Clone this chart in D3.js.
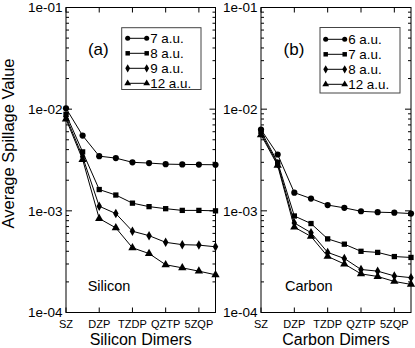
<!DOCTYPE html>
<html>
<head>
<meta charset="utf-8">
<script src="https://cdn.jsdelivr.net/npm/d3@7"></script>
<style>
  body { margin: 0; background: #fff; }
  svg { display: block; font-family: "Liberation Sans", Arial, sans-serif; }
</style>
</head>
<body>
<svg id="chart" width="415" height="348"></svg>
<script>
// basis sets along x (only every second slot gets a label)
const steps = [0, 1, 2, 3, 4, 5, 6, 7, 8, 9];
const tickLabels = ["SZ", "DZP", "TZDP", "QZTP", "5ZQP"];
const tickSteps = [0, 2, 4, 6, 8];
const yTicks = [1e-4, 1e-3, 1e-2, 1e-1];

// Silicon dimers
const siNames = ["7 a.u.", "8 a.u.", "9 a.u.", "12 a.u."];
const si7 = [0.0102, 0.0055, 0.00345, 0.0033, 0.0030, 0.00295, 0.00288, 0.00286, 0.00285, 0.00284];
const si8 = [0.0089, 0.0038, 0.00162, 0.00143, 0.00119, 0.0011, 0.00105, 0.00101, 0.00101, 0.0010];
const si9 = [0.0084, 0.0034, 0.00111, 0.00094, 0.00063, 0.00057, 0.00049, 0.000465, 0.00046, 0.000443];
const si12 = [0.0080, 0.0032, 0.00084, 0.00068, 0.000433, 0.00038, 0.000295, 0.000275, 0.000255, 0.000235];

// Carbon dimers
const cNames = ["6 a.u.", "7 a.u.", "8 a.u.", "12 a.u."];
const c6 = [0.0063, 0.00358, 0.00151, 0.00132, 0.00114, 0.00107, 0.00099, 0.00097, 0.00096, 0.00094];
const c7 = [0.0061, 0.0030, 0.00089, 0.00075, 0.00053, 0.00047, 0.0004, 0.00039, 0.000355, 0.000348];
const c8 = [0.0058, 0.0029, 0.00076, 0.00061, 0.00039, 0.00034, 0.000265, 0.000255, 0.000229, 0.00022];
const c12 = [0.0056, 0.0028, 0.00069, 0.00056, 0.000356, 0.0003, 0.00024, 0.000226, 0.000202, 0.000189];

const symbols = [d3.symbolCircle, d3.symbolSquare, d3.symbolDiamond, d3.symbolTriangle];
const symSize = [30, 28, 26, 30];

const svg = d3.select("#chart");
const plotTop = 7.5, plotBottom = 312.5;

function drawPanel(opt) {
    var x = d3.scaleLinear().domain([0, 9]).range([opt.left, opt.right]);
    var y = d3.scaleLog().domain([1e-4, 1e-1]).range([plotBottom, plotTop]);
    var g = svg.append("g");

    // minor ticks on both sides
    var minor = [];
    [1e-4, 1e-3, 1e-2].forEach(function (d) {
        for (var m = 2; m <= 9; m++) minor.push(m * d);
    });
    minor.forEach(function (v) {
        g.append("line").attr("x1", opt.left).attr("x2", opt.left + 3)
            .attr("y1", y(v)).attr("y2", y(v)).attr("stroke", "#000");
        g.append("line").attr("x1", opt.right).attr("x2", opt.right - 3)
            .attr("y1", y(v)).attr("y2", y(v)).attr("stroke", "#000");
    });
    yTicks.forEach(function (v) {
        g.append("line").attr("x1", opt.left).attr("x2", opt.left + 6)
            .attr("y1", y(v)).attr("y2", y(v)).attr("stroke", "#000");
        g.append("line").attr("x1", opt.right).attr("x2", opt.right - 6)
            .attr("y1", y(v)).attr("y2", y(v)).attr("stroke", "#000");
        g.append("text").attr("x", opt.left - 3.5).attr("y", y(v)).attr("dy", "0.36em")
            .attr("text-anchor", "end").style("font-size", "13.5px")
            .text(d3.format(".0e")(v).replace("e-", "e-0"));
    });
    tickSteps.forEach(function (s, i) {
        g.append("line").attr("x1", x(s)).attr("x2", x(s))
            .attr("y1", plotTop).attr("y2", plotTop + 5).attr("stroke", "#000");
        g.append("line").attr("x1", x(s)).attr("x2", x(s))
            .attr("y1", plotBottom).attr("y2", plotBottom - 5).attr("stroke", "#000");
        g.append("text").attr("x", x(s)).attr("y", 327.5)
            .attr("text-anchor", "middle").style("font-size", "11px")
            .text(tickLabels[i]);
    });

    // frame
    g.append("rect").attr("x", opt.left).attr("y", plotTop)
        .attr("width", opt.right - opt.left).attr("height", plotBottom - plotTop)
        .attr("fill", "none").attr("stroke", "#000");

    var line = d3.line().x(function (d, i) { return x(steps[i]); }).y(function (d) { return y(d); });

    opt.series.forEach(function (s, k) {
        g.append("path").datum(s).attr("d", line)
            .attr("fill", "none").attr("stroke", "#000").attr("stroke-width", 1);
        g.selectAll(null).data(s).enter().append("path")
            .attr("d", d3.symbol().type(symbols[k]).size(symSize[k]))
            .attr("transform", function (d, i) { return "translate(" + x(steps[i]) + "," + y(d) + ")"; })
            .attr("fill", "#000");
    });

    // legend
    var L = opt.legend;
    g.append("rect").attr("x", L.x0).attr("y", L.y0)
        .attr("width", L.x1 - L.x0).attr("height", L.y1 - L.y0)
        .attr("fill", "#fff").attr("stroke", "#444");
    opt.names.forEach(function (n, k) {
        var cy = L.row0 + k * 15;
        g.append("line").attr("x1", L.sx).attr("x2", L.sx + 19)
            .attr("y1", cy).attr("y2", cy).attr("stroke", "#000");
        [L.sx, L.sx + 19].forEach(function (px) {
            g.append("path").attr("d", d3.symbol().type(symbols[k]).size(20))
                .attr("transform", "translate(" + px + "," + cy + ")").attr("fill", "#000");
        });
        g.append("text").attr("x", L.sx + 22.5).attr("y", cy + 4.8)
            .style("font-size", "13.4px").text(n);
    });

    g.append("text").attr("x", opt.tagX).attr("y", 54.7).attr("text-anchor", "middle")
        .style("font-size", "17px").text(opt.tag);
    g.append("text").attr("x", opt.nameX).attr("y", 290.5)
        .style("font-size", "14.5px").text(opt.name);
    g.append("text").attr("x", (opt.left + opt.right) / 2).attr("y", 345)
        .attr("text-anchor", "middle").style("font-size", "16px").text(opt.title);
}

drawPanel({
    left: 66, right: 215.5, series: [si7, si8, si9, si12], names: siNames,
    legend: {x0: 121.7, x1: 201, y0: 27.7, y1: 89.5, sx: 127.7, row0: 38.3},
    tag: "(a)", tagX: 98.3, name: "Silicon", nameX: 87.7, title: "Silicon Dimers"
});
drawPanel({
    left: 261, right: 411, series: [c6, c7, c8, c12], names: cNames,
    legend: {x0: 320, x1: 400, y0: 27.5, y1: 93, sx: 325.7, row0: 39.3},
    tag: "(b)", tagX: 294, name: "Carbon", nameX: 285, title: "Carbon Dimers"
});

svg.append("text").attr("transform", "translate(13.5,143.5) rotate(-90)")
    .attr("text-anchor", "middle").style("font-size", "16.5px")
    .text("Average Spillage Value");
</script>
</body>
</html>
